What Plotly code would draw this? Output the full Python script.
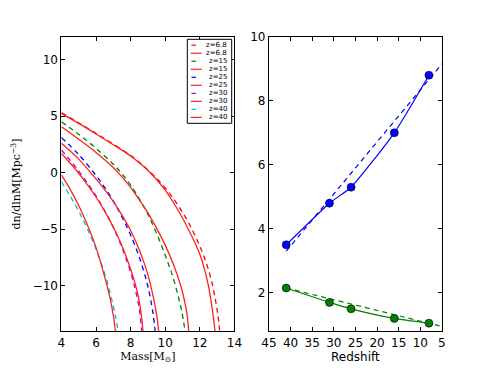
import plotly.graph_objects as go

# left panel: mass function curves, dashed = simulation, solid red = fit
labels = ["z=6.8", "z=15", "z=25", "z=30", "z=40"]
dash_colors = ["#ff0000", "#008000", "#0000ff", "#bf00bf", "#00bfbf"]

m_68 = [4, 5, 6, 7, 8, 8.5, 9, 9.5, 10, 10.5, 11, 11.5, 12, 12.4, 12.7, 12.9, 13.05, 13.15]
d_68 = [5.3, 4.4, 3.47, 2.52, 1.53, 0.93, 0.25, -0.5, -1.35, -2.35, -3.5, -4.85, -6.5, -8.1, -9.7, -11.2, -12.6, -14]
ms_68 = [4, 5, 6, 7, 8, 8.5, 9, 9.5, 10, 10.5, 11, 11.5, 12, 12.3, 12.5, 12.7, 12.88]
s_68 = [5.24, 4.35, 3.42, 2.47, 1.48, 0.88, 0.2, -0.6, -1.55, -2.7, -4.0, -5.5, -7.2, -8.7, -10.0, -11.8, -14]

m_15 = [4, 5, 6, 7, 7.5, 8, 8.5, 9, 9.5, 10, 10.4, 10.7, 10.95, 11.15]
d_15 = [4.5, 3.38, 2.15, 0.75, -0.1, -1.1, -2.3, -3.7, -5.35, -7.3, -9.0, -10.6, -12.2, -14]
ms_15 = [4, 5, 6, 7, 7.5, 8, 8.5, 9, 9.5, 10, 10.5, 10.9, 11.1, 11.25, 11.36]
s_15 = [4.06, 2.96, 1.79, 0.45, -0.37, -1.3, -2.4, -3.55, -4.9, -6.4, -8.2, -10.0, -11.2, -12.4, -14]

m_25 = [4, 5, 6, 6.5, 7, 7.5, 8, 8.5, 8.9, 9.1, 9.3, 9.42]
d_25 = [3.1, 1.6, -0.25, -1.3, -2.5, -3.9, -5.5, -7.45, -9.45, -10.75, -12.45, -14]
ms_25 = [4, 5, 6, 6.5, 7, 7.5, 8, 8.5, 9, 9.3, 9.5, 9.62]
s_25 = [2.6, 1.2, -0.55, -1.5, -2.55, -3.75, -5.1, -6.8, -9.0, -10.9, -12.5, -14]

m_30 = [4, 4.5, 5, 5.5, 6, 6.5, 7, 7.5, 8, 8.3, 8.5, 8.64]
d_30 = [2.0, 1.1, 0.15, -0.9, -2.05, -3.35, -4.85, -6.6, -8.8, -10.5, -12.0, -14]
ms_30 = [4, 4.5, 5, 5.5, 6, 6.5, 7, 7.5, 8, 8.35, 8.55, 8.72]
s_30 = [1.7, 0.85, -0.05, -1.05, -2.15, -3.4, -4.8, -6.45, -8.5, -10.3, -11.8, -14]

m_40 = [4, 4.5, 5, 5.5, 6, 6.5, 6.8, 7.0, 7.15, 7.28]
d_40 = [-0.8, -2.05, -3.4, -4.95, -6.75, -8.9, -10.5, -11.8, -12.9, -14]
ms_40 = [4, 4.5, 5, 5.5, 6, 6.5, 6.8, 7.0, 7.12]
s_40 = [-0.2, -1.45, -2.9, -4.6, -6.6, -9.2, -11.0, -12.6, -14]

dashed_x = [m_68, m_15, m_25, m_30, m_40]
dashed_y = [d_68, d_15, d_25, d_30, d_40]
solid_x = [ms_68, ms_15, ms_25, ms_30, ms_40]
solid_y = [s_68, s_15, s_25, s_30, s_40]

# right panel: vs redshift
z_pts = [41, 31, 26, 16, 8]
blue_pts = [3.5, 4.8, 5.3, 7.0, 8.8]
green_pts = [2.15, 1.7, 1.5, 1.2, 1.05]
z_fit = [41, 5]
blue_fit = [3.3, 9.15]
green_fit = [2.15, 0.95]

fig = go.Figure()

for i in range(5):
    fig.add_trace(go.Scatter(x=dashed_x[i], y=dashed_y[i], mode="lines",
                             line=dict(color=dash_colors[i], width=1.3, dash="5px,4px", shape="spline"),
                             xaxis="x", yaxis="y"))
    fig.add_trace(go.Scatter(x=solid_x[i], y=solid_y[i], mode="lines",
                             line=dict(color="#ff2020", width=1.3, shape="spline"),
                             xaxis="x", yaxis="y"))

fig.add_trace(go.Scatter(x=z_fit, y=blue_fit, mode="lines",
                         line=dict(color="#0000ff", width=1.2, dash="5px,4px"), xaxis="x2", yaxis="y2"))
fig.add_trace(go.Scatter(x=z_pts, y=blue_pts, mode="lines+markers",
                         line=dict(color="#0000ff", width=1.2, shape="spline", smoothing=0.5),
                         marker=dict(color="#0000ff", size=8, line=dict(color="black", width=0.6)),
                         xaxis="x2", yaxis="y2"))
fig.add_trace(go.Scatter(x=z_fit, y=green_fit, mode="lines",
                         line=dict(color="#008000", width=1.2, dash="5px,4px"), xaxis="x2", yaxis="y2"))
fig.add_trace(go.Scatter(x=z_pts, y=green_pts, mode="lines+markers",
                         line=dict(color="#008000", width=1.2, shape="spline", smoothing=0.5),
                         marker=dict(color="#008000", size=8, line=dict(color="black", width=0.6)),
                         xaxis="x2", yaxis="y2"))

# the page puts the figure 8px in from the window corner
OFF = 8
W, H = 491 - OFF, 368 - OFF


def px(x):
    return (x - OFF) / W


def py(y):
    return 1 - (y - OFF) / H


# legend drawn by hand so the rows can be as tight as matplotlib's
shapes = [dict(type="rect", xref="paper", yref="paper",
               x0=px(187.3), x1=px(231.7), y0=py(123.3), y1=py(39.3),
               line=dict(color="black", width=1), fillcolor="white", layer="above")]
annotations = []
for k in range(10):
    yy = py(45.2 + 8.02 * k)
    i = k // 2
    if k % 2 == 0:
        col, x0, x1 = dash_colors[i], 191.5, 196.0
    else:
        col, x0, x1 = "#ff2020", 190.7, 201.7
    shapes.append(dict(type="line", xref="paper", yref="paper", x0=px(x0), x1=px(x1), y0=yy, y1=yy,
                       line=dict(color=col, width=1.2), layer="above"))
    annotations.append(dict(text=labels[i], xref="paper", yref="paper", x=px(228.5), y=yy,
                            xanchor="right", yanchor="middle", showarrow=False,
                            font=dict(family="DejaVu Sans", size=7, color="black")))

ax = dict(showline=True, mirror="ticks", linecolor="black", linewidth=1, ticks="inside",
          ticklen=4, tickcolor="black", showgrid=False, zeroline=False, automargin=False,
          tickfont=dict(family="DejaVu Sans", size=12, color="black"))

fig.update_layout(
    width=W, height=H, showlegend=False,
    margin=dict(l=0, r=0, t=0, b=0),
    paper_bgcolor="white", plot_bgcolor="white",
    xaxis=dict(ax, domain=[px(61.4), px(234.4)], range=[4, 14], tickvals=[4, 6, 8, 10, 12, 14],
               title=dict(text="Mass[M<sub>⊙</sub>]", standoff=2,
                          font=dict(family="DejaVu Serif", size=11, color="black"))),
    yaxis=dict(ax, domain=[py(331.2), py(36.8)], range=[-14, 12], tickvals=[-10, -5, 0, 5, 10],
               title=dict(text="dn/dlnM[Mpc<sup>−3</sup>]", standoff=9,
                          font=dict(family="DejaVu Serif", size=11, color="black"))),
    xaxis2=dict(ax, domain=[px(268.9), px(441.9)], range=[45, 5], tickvals=[45, 40, 35, 30, 25, 20, 15, 10, 5],
                anchor="y2",
                title=dict(text="Redshift", standoff=2,
                           font=dict(family="DejaVu Sans", size=12, color="black"))),
    yaxis2=dict(ax, domain=[py(331.2), py(36.8)], range=[0.8, 10], tickvals=[2, 4, 6, 8, 10], anchor="x2"),
    shapes=shapes, annotations=annotations,
)

fig.write_html("out.html")
